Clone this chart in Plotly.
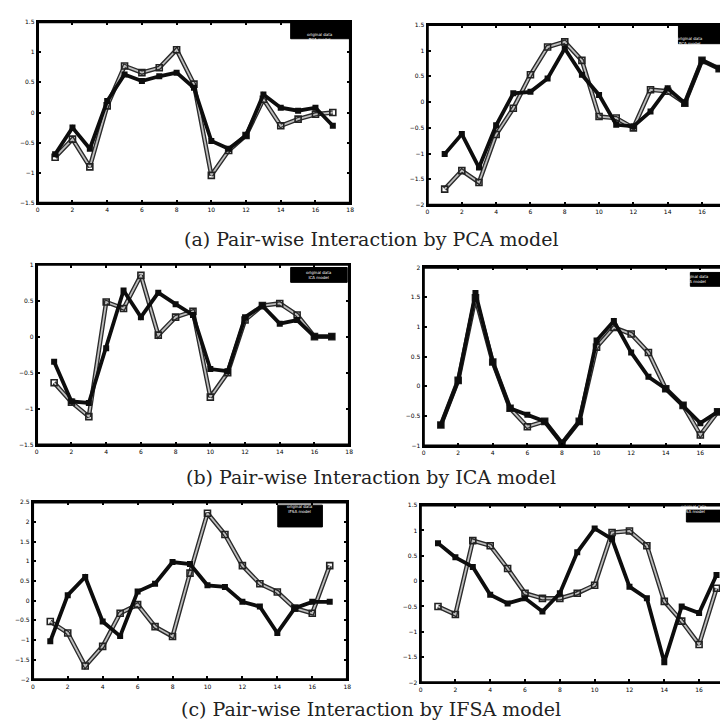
import plotly.graph_objects as go

X = list(range(1, 18))

# (a) PCA model
pca_left_s1 = [-0.69, -0.25, -0.60, 0.19, 0.63, 0.52, 0.60, 0.66, 0.41, -0.47, -0.60, -0.38, 0.30, 0.08, 0.03, 0.08, -0.22]
pca_left_s2 = [-0.74, -0.44, -0.90, 0.11, 0.77, 0.66, 0.74, 1.04, 0.47, -1.04, -0.63, -0.38, 0.22, -0.22, -0.11, -0.03, 0.00]
pca_right_s1 = [-1.01, -0.62, -1.27, -0.45, 0.17, 0.20, 0.46, 1.04, 0.53, 0.14, -0.44, -0.47, -0.18, 0.27, -0.02, 0.81, 0.65]
pca_right_s2 = [-1.69, -1.33, -1.56, -0.63, -0.12, 0.53, 1.07, 1.17, 0.81, -0.28, -0.31, -0.50, 0.24, 0.21, -0.02, 0.81, 0.65]

# (b) ICA model
ica_left_s1 = [-0.35, -0.90, -0.92, -0.16, 0.64, 0.27, 0.61, 0.45, 0.30, -0.45, -0.48, 0.27, 0.43, 0.18, 0.23, 0.00, 0.00]
ica_left_s2 = [-0.64, -0.91, -1.11, 0.48, 0.39, 0.85, 0.02, 0.27, 0.35, -0.84, -0.50, 0.23, 0.43, 0.46, 0.30, 0.00, 0.00]
ica_right_s1 = [-0.65, 0.10, 1.57, 0.41, -0.37, -0.48, -0.59, -0.96, -0.59, 0.77, 1.10, 0.57, 0.16, -0.04, -0.32, -0.62, -0.43]
ica_right_s2 = [-0.65, 0.10, 1.49, 0.41, -0.37, -0.68, -0.59, -0.96, -0.59, 0.66, 0.99, 0.88, 0.57, -0.04, -0.32, -0.82, -0.43]

# (c) IFSA model
ifsa_left_s1 = [-1.03, 0.14, 0.60, -0.53, -0.90, 0.23, 0.43, 0.98, 0.93, 0.39, 0.35, -0.03, -0.15, -0.82, -0.19, -0.03, -0.03]
ifsa_left_s2 = [-0.53, -0.82, -1.66, -1.16, -0.32, -0.10, -0.66, -0.91, 0.70, 2.22, 1.68, 0.89, 0.43, 0.22, -0.19, -0.32, 0.89]
ifsa_right_s1 = [0.75, 0.47, 0.28, -0.27, -0.44, -0.34, -0.60, -0.24, 0.57, 1.04, 0.83, -0.11, -0.34, -1.60, -0.50, -0.63, 0.12]
ifsa_right_s2 = [-0.50, -0.66, 0.80, 0.70, 0.25, -0.24, -0.34, -0.34, -0.24, -0.08, 0.96, 0.99, 0.70, -0.40, -0.79, -1.25, -0.14]

x_ticks = [0, 2, 4, 6, 8, 10, 12, 14, 16, 18]
y_ranges = [[-1.5, 1.5], [-2, 1.5], [-1.5, 1], [-1, 2], [-2, 2.5], [-2, 1.5]]
x_ends = [18, 17.75, 18, 17.83, 18, 17.89]
legend_names = [["original data", "PCA model"], ["original data", "PCA model"],
                ["original data", "ICA model"], ["original data", "ICA model"],
                ["original data", "IFSA model"], ["original data", "IFSA model"]]
captions = ["(a) Pair-wise Interaction by PCA model",
            "(b) Pair-wise Interaction by ICA model",
            "(c) Pair-wise Interaction by IFSA model"]

series = [(pca_left_s1, pca_left_s2), (pca_right_s1, pca_right_s2),
          (ica_left_s1, ica_left_s2), (ica_right_s1, ica_right_s2),
          (ifsa_left_s1, ifsa_left_s2), (ifsa_right_s1, ifsa_right_s2)]

W, H = 728, 720
# panel frames in pixels: (x0, x1, ytop, ybottom)
frames = [(28, 343, 10, 193), (421, 728, 13, 195),
          (27, 342, 255, 437), (417, 728, 258, 438),
          (23, 340, 495, 674), (414, 728, 498, 677)]
legend_boxes = [(283, 342, 10, 27), (674, 728, 13, 32),
                (283, 340, 258, 273), (686, 728, 263, 277),
                (270, 315, 498, 520), (682, 728, 503, 515)]
caption_y = [229, 470, 704]

fig = go.Figure()
layout = dict(width=W, height=H, margin=dict(l=0, r=0, t=0, b=0),
              paper_bgcolor="white", plot_bgcolor="white", showlegend=False,
              shapes=[], annotations=[])

for i, ((s1, s2), fr) in enumerate(zip(series, frames)):
    k = "" if i == 0 else str(i + 1)
    xa, ya = "x" + k, "y" + k
    # open-marker series drawn as a dark outline with a light core
    fig.add_trace(go.Scatter(x=X, y=s2, mode="lines", xaxis=xa, yaxis=ya,
                             name=legend_names[i][1], hoverinfo="skip",
                             line=dict(color="#2a2a2a", width=4.5)))
    fig.add_trace(go.Scatter(x=X, y=s2, mode="lines+markers", xaxis=xa, yaxis=ya,
                             name=legend_names[i][1],
                             line=dict(color="#bdbdbd", width=1.8),
                             marker=dict(symbol="square-open", size=6, color="#222",
                                         line=dict(width=1.6, color="#222"))))
    fig.add_trace(go.Scatter(x=X, y=s1, mode="lines+markers", xaxis=xa, yaxis=ya,
                             name=legend_names[i][0],
                             line=dict(color="#0d0d0d", width=3.8),
                             marker=dict(symbol="square", size=6, color="#0d0d0d")))
    x0, x1, yt, yb = fr
    y0, y1 = y_ranges[i]
    common = dict(showline=True, linecolor="black", linewidth=2, mirror="allticks",
                  ticks="inside", ticklen=3, tickwidth=2, tickcolor="black",
                  showgrid=False, zeroline=False,
                  tickfont=dict(size=6, color="black", family="DejaVu Sans"))
    layout["xaxis" + k] = dict(common, domain=[x0 / W, x1 / W], range=[0, x_ends[i]],
                                tickvals=x_ticks, anchor=ya)
    layout["yaxis" + k] = dict(common, domain=[1 - yb / H, 1 - yt / H], range=[y0, y1],
                                dtick=0.5, tick0=0, anchor=xa)
    layout["shapes"].append(dict(type="rect", xref=xa + " domain", yref=ya + " domain",
                                 x0=0, x1=1, y0=0, y1=1, layer="above",
                                 line=dict(color="black", width=2.5)))
    bx0, bx1, by0, by1 = legend_boxes[i]
    layout["shapes"].append(dict(type="rect", xref="paper", yref="paper",
                                 x0=bx0 / W, x1=bx1 / W, y0=1 - by1 / H, y1=1 - by0 / H,
                                 fillcolor="black", line=dict(color="black", width=1)))
    layout["annotations"].append(dict(xref="paper", yref="paper",
                                      x=(bx0 + bx1) / 2 / W, y=1 - (by0 + by1) / 2 / H,
                                      text=legend_names[i][0] + "<br>" + legend_names[i][1],
                                      showarrow=False,
                                      font=dict(size=4, color="white", family="DejaVu Sans")))

for cap, cy in zip(captions, caption_y):
    layout["annotations"].append(dict(xref="paper", yref="paper", x=0.5, y=1 - cy / H,
                                      text=cap, showarrow=False, xanchor="center",
                                      yanchor="middle",
                                      font=dict(size=19, color="#222",
                                                family="DejaVu Serif")))

fig.update_layout(**layout)
fig.write_html("out.html")
